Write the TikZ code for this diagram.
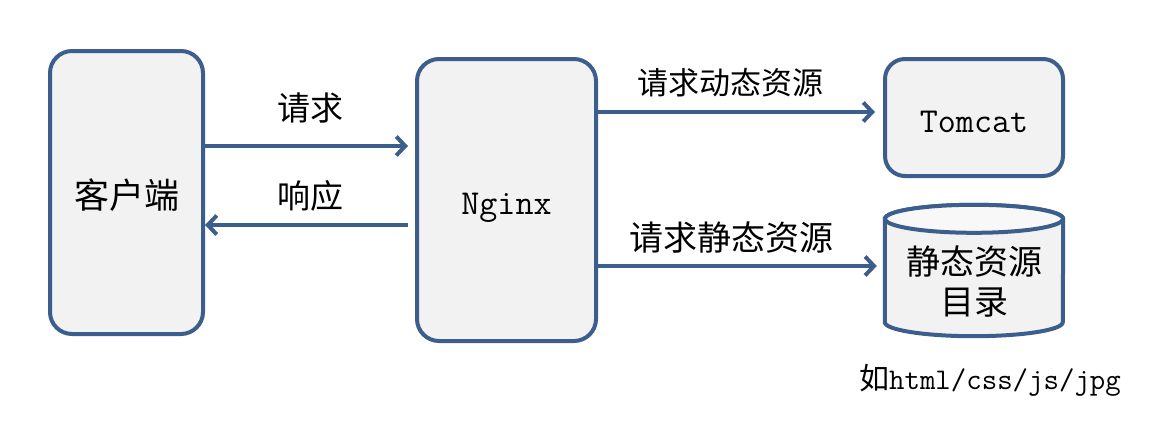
\documentclass[tikz,border=0pt]{standalone}
\usepackage{fontspec}
\newfontfamily\cjk{Noto Sans CJK SC}
\usetikzlibrary{arrows.meta}
\definecolor{edgeblue}{HTML}{3B5E8C}
\definecolor{boxfill}{HTML}{F2F2F2}
\definecolor{topfill}{HTML}{F8F8F8}
\tikzset{
  box/.style={draw=edgeblue, fill=boxfill, line width=4pt, rounded corners=22pt},
  flow/.style={draw=edgeblue, line width=4pt, -{Straight Barb[length=9pt,width=19pt]}},
  cyl/.style={draw=edgeblue, fill=boxfill, line width=4pt},
  lbl/.style={font=\cjk\fontsize{#1}{#1}\selectfont},
  lbl/.default=33,
}

\begin{document}
\begin{tikzpicture}[x=1pt,y=-1pt]
        \useasboundingbox (0,0) rectangle (1172,423);

        \node[box, minimum width=153pt, minimum height=283pt, lbl=35] at (126.5,192.5) (client) {\raisebox{-3pt}[\height][\depth]{客户端}};
        \node[box, minimum width=179pt, minimum height=282pt, font=\ttfamily\fontsize{35}{35}\selectfont] at (506.5,200) (nginx) {\raisebox{-8pt}[\height][\depth]{Nginx}};
        \node[box, rounded corners=20pt, minimum width=178pt, minimum height=117pt, font=\ttfamily\fontsize{35}{35}\selectfont] at (974,117.5) (tomcat) {\raisebox{-4pt}[\height][\depth]{Tomcat}};
        \node[minimum width=178pt, minimum height=131pt] at (974,270.5) (store) {};

        % cylinder for the static files
        \filldraw[cyl] ([yshift=-14pt]store.north west) -- ([yshift=14pt]store.south west)
            arc[start angle=180, end angle=360, x radius=89pt, y radius=14pt]
            -- ([yshift=-14pt]store.north east)
            arc[start angle=0, end angle=180, x radius=89pt, y radius=14pt] -- cycle;
        \filldraw[cyl, fill=topfill] ([yshift=-14pt]store.north) ellipse[x radius=89pt, y radius=14pt];
        \node[align=center, font=\cjk\fontsize{34}{40}\selectfont] at ([yshift=-11pt]store.center) (storetext) {静态资源\\目录};
        \node at (990,380) (hint) {{\cjk\fontsize{30}{30}\selectfont 如}{\ttfamily\fontsize{30}{30}\selectfont html/css/js/jpg}};

        \draw[flow, shorten >=7pt] ([yshift=46.5pt]client.east) -- ([yshift=54pt]nginx.west) node[midway, yshift=38pt, lbl] (req) {请求};
        \draw[flow, shorten <=7pt] ([yshift=-25pt]nginx.west) -- ([yshift=-32.5pt]client.east) node[midway, yshift=29pt, lbl] (resp) {响应};
        \draw[flow, shorten >=8pt] ([yshift=88pt]nginx.east) -- ([yshift=5.5pt]tomcat.west) node[midway, yshift=29pt, xshift=-10pt, lbl=31] (dyn) {请求动态资源};
        \draw[flow, shorten >=8pt] ([yshift=-66pt]nginx.east) -- ([yshift=4.5pt]store.west) node[midway, yshift=28pt, xshift=-10pt, lbl=34] (stat) {请求静态资源};

    \end{tikzpicture}
\end{document}
